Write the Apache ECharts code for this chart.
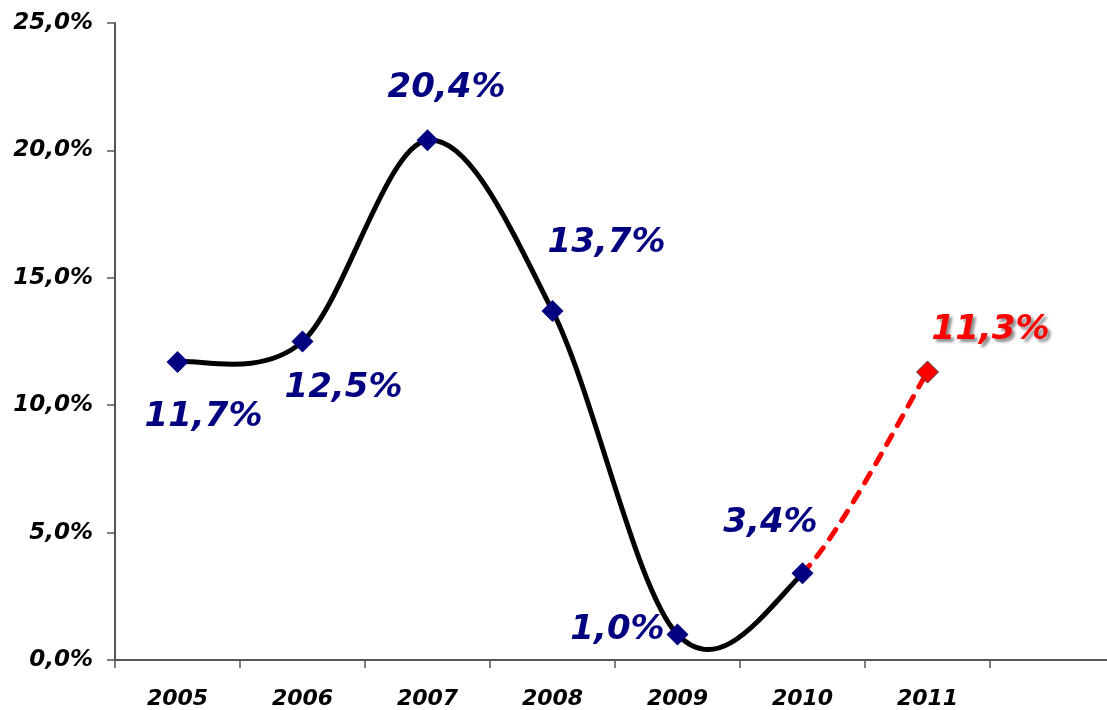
<!DOCTYPE html>
<html>
<head>
<meta charset="utf-8">
<script src="https://cdn.jsdelivr.net/npm/echarts@6/dist/echarts.min.js"></script>
<style>
  html, body { margin: 0; padding: 0; background: #fff; overflow: hidden; }
  #chart { width: 1125px; height: 710px; }
</style>
</head>
<body>
<div id="chart"></div>
<script>
// Annual growth, actual years and the forecast year
const years = ['2005', '2006', '2007', '2008', '2009', '2010', '2011', ''];
const actualGrowth = [11.7, 12.5, 20.4, 13.7, 1.0, 3.4];
const forecastYears = ['2010', '2011'];
const forecastGrowth = [3.4, 11.3];
const yTicks = [0, 5, 10, 15, 20, 25];

// Where each value label sits relative to its marker (pixels)
const actualLabelOffsets = [[26, 55], [41, 47], [19, -52], [54, -68], [-60, -4], [-32, -50]];
const forecastLabelOffset = [63, -42];

const fmt = v => v.toFixed(1).replace('.', ',') + '%';
const NAVY = '#000080';
const RED = '#ff0000';
const labelFont = {
  fontFamily: 'DejaVu Sans',
  fontStyle: 'italic',
  fontWeight: 'bold',
  fontSize: 34
};

// Category index / value pairs for the whole curve (actual years, then the forecast end)
const curvePoints = actualGrowth.map((v, i) => [i, v]);
forecastYears.forEach((y, k) => {
  const idx = years.indexOf(y);
  if (idx >= actualGrowth.length) curvePoints.push([idx, forecastGrowth[k]]);
});
const firstForecastSegment = actualGrowth.length - 1;

// Smoothed curve: one cubic Bezier per segment, tangents from the neighbouring points
function renderSegment(params, api) {
  const i = params.dataIndex;
  const n = curvePoints.length;
  if (i >= n - 1) return null;
  const pt = k => api.coord(curvePoints[Math.max(0, Math.min(n - 1, k))]);
  const p0 = pt(i - 1), p1 = pt(i), p2 = pt(i + 1), p3 = pt(i + 2);
  const f = 1 / 6;
  const forecast = i >= firstForecastSegment;
  return {
    type: 'bezierCurve',
    silent: true,
    shape: {
      x1: p1[0], y1: p1[1],
      cpx1: p1[0] + (p2[0] - p0[0]) * f, cpy1: p1[1] + (p2[1] - p0[1]) * f,
      cpx2: p2[0] - (p3[0] - p1[0]) * f, cpy2: p2[1] - (p3[1] - p1[1]) * f,
      x2: p2[0], y2: p2[1]
    },
    style: forecast
      ? { fill: null, stroke: RED, lineWidth: 5, lineDash: [11, 11], lineCap: 'round' }
      : { fill: null, stroke: '#000', lineWidth: 5, lineCap: 'round', lineJoin: 'round' }
  };
}

const actualData = actualGrowth.map((v, i) => ({
  value: [years[i], v],
  label: { offset: actualLabelOffsets[i] }
}));

const forecastData = forecastYears
  .map((y, k) => ({ y, v: forecastGrowth[k] }))
  .filter(d => years.indexOf(d.y) >= actualGrowth.length)
  .map(d => ({ value: [d.y, d.v], label: { offset: forecastLabelOffset } }));

const chart = echarts.init(document.getElementById('chart'));
chart.setOption({
  animation: false,
  backgroundColor: '#ffffff',
  grid: { left: 115, top: 23, width: 1000, height: 637, containLabel: false },
  xAxis: {
    type: 'category',
    data: years,
    boundaryGap: true,
    axisLine: { lineStyle: { color: '#555', width: 2 } },
    axisTick: { show: true, length: 8, lineStyle: { color: '#555', width: 1.5 } },
    axisLabel: {
      margin: 28,
      color: '#000',
      fontFamily: 'DejaVu Sans',
      fontStyle: 'italic',
      fontWeight: 'bold',
      fontSize: 22
    },
    splitLine: { show: false }
  },
  yAxis: {
    type: 'value',
    min: yTicks[0],
    max: yTicks[yTicks.length - 1],
    interval: yTicks[1] - yTicks[0],
    axisLine: { show: true, lineStyle: { color: '#555', width: 2 } },
    axisTick: { show: true, length: 8, lineStyle: { color: '#555', width: 1.5 } },
    axisLabel: {
      margin: 22,
      color: '#000',
      fontFamily: 'DejaVu Sans',
      fontStyle: 'italic',
      fontWeight: 'bold',
      fontSize: 23,
      formatter: fmt
    },
    splitLine: { show: false }
  },
  series: [
    {
      type: 'custom',
      data: curvePoints,
      encode: { x: 0, y: 1 },
      renderItem: renderSegment,
      clip: false,
      silent: true,
      z: 2
    },
    {
      type: 'scatter',
      data: forecastData,
      z: 3,
      symbol: 'diamond',
      symbolSize: 22,
      itemStyle: { color: RED, borderColor: '#444', borderWidth: 1, opacity: 1 },
      label: Object.assign({
        show: true,
        position: 'inside',
        align: 'center',
        verticalAlign: 'middle',
        color: RED,
        textShadowColor: 'rgba(0,0,0,0.45)',
        textShadowBlur: 3,
        textShadowOffsetX: 3,
        textShadowOffsetY: 3,
        formatter: p => fmt(p.value[1])
      }, labelFont)
    },
    {
      type: 'scatter',
      data: actualData,
      z: 4,
      symbol: 'diamond',
      symbolSize: 22,
      itemStyle: { color: NAVY, opacity: 1 },
      label: Object.assign({
        show: true,
        position: 'inside',
        align: 'center',
        verticalAlign: 'middle',
        color: NAVY,
        formatter: p => fmt(p.value[1])
      }, labelFont)
    }
  ]
});
</script>
</body>
</html>
